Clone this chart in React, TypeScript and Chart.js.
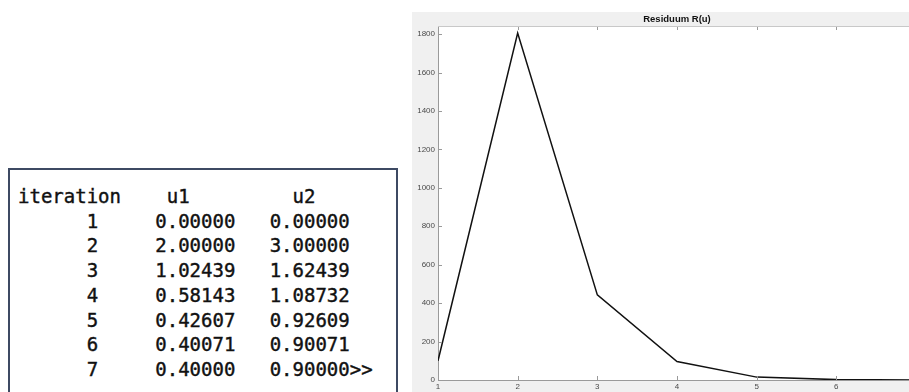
import React, { useEffect, useRef } from "react";
import { Chart, registerables } from "chart.js";

Chart.register(...registerables);

const ITERATIONS = [1, 2, 3, 4, 5, 6, 7];
const U1 = [0.0, 2.0, 1.02439, 0.58143, 0.42607, 0.40071, 0.4];
const U2 = [0.0, 3.0, 1.62439, 1.08732, 0.92609, 0.90071, 0.9];
const RESIDUUM = [100, 1805, 443, 96, 15, 2, 0];
const TITLE = "Residuum R(u)";
const Y_MAX = 1842;
const Y_STEP = 200;

const headerLine = "iteration    u1         u2";
const rowLines = ITERATIONS.map(
  (it, i) =>
    String(it).padStart(7, " ") +
    "     " +
    U1[i].toFixed(5) +
    "   " +
    U2[i].toFixed(5) +
    (i === ITERATIONS.length - 1 ? ">>" : "")
);

const TICK_FONT = { size: 8, family: "'Liberation Sans', Arial, sans-serif" };

const matlabPlugin = {
  id: "matlabLook",
  beforeDraw(chart: any) {
    const { ctx, chartArea: a, width, height } = chart;
    ctx.save();
    ctx.fillStyle = "#f0f0f0";
    ctx.fillRect(0, 0, width, height);
    ctx.fillStyle = "#ffffff";
    ctx.fillRect(a.left, a.top, a.right - a.left, a.bottom - a.top);
    ctx.restore();
  },
  afterDraw(chart: any) {
    const { ctx, chartArea: a } = chart;
    const xs = chart.scales.x;
    const ys = chart.scales.y;
    ctx.save();
    ctx.strokeStyle = "#9a9a9a";
    ctx.lineWidth = 1;
    ctx.beginPath();
    ys.ticks.forEach((t: any) => {
      const y = Math.round(ys.getPixelForValue(t.value)) + 0.5;
      ctx.moveTo(a.left, y);
      ctx.lineTo(a.left + 4, y);
    });
    xs.ticks.forEach((t: any) => {
      const x = Math.round(xs.getPixelForValue(t.value)) + 0.5;
      ctx.moveTo(x, a.bottom);
      ctx.lineTo(x, a.bottom - 4);
      ctx.moveTo(x, a.top);
      ctx.lineTo(x, a.top + 4);
    });
    ctx.stroke();
    ctx.strokeStyle = "#c8c8c8";
    ctx.beginPath();
    ctx.moveTo(a.left, a.top + 0.5);
    ctx.lineTo(a.right, a.top + 0.5);
    ctx.stroke();
    ctx.fillStyle = "#111111";
    ctx.font = "bold 9.5px 'Liberation Sans', Arial, sans-serif";
    ctx.textAlign = "center";
    ctx.textBaseline = "middle";
    ctx.fillText(TITLE, (a.left + a.right) / 2, 7.5);
    ctx.restore();
  },
};

export default function App() {
  const canvasRef = useRef<HTMLCanvasElement | null>(null);

  useEffect(() => {
    if (!canvasRef.current) return;
    const chart = new Chart(canvasRef.current, {
      type: "line",
      data: {
        datasets: [
          {
            data: ITERATIONS.map((x, i) => ({ x, y: RESIDUUM[i] })),
            borderColor: "#111111",
            borderWidth: 1.5,
            pointRadius: 0,
            tension: 0,
            fill: false,
          },
        ],
      },
      options: {
        responsive: false,
        animation: false,
        layout: { padding: { top: 14, right: 16, left: 0, bottom: 0 } },
        plugins: {
          legend: { display: false },
          title: { display: false },
          tooltip: { enabled: false },
        },
        scales: {
          x: {
            type: "linear",
            min: 1,
            max: 7,
            afterFit: (s: any) => {
              s.height = 12;
            },
            grid: { drawOnChartArea: false, drawTicks: false, color: "#9a9a9a" },
            border: { color: "#9a9a9a", width: 1 },
            ticks: {
              stepSize: 1,
              padding: 2,
              color: "#4a4a4a",
              font: TICK_FONT,
              maxRotation: 0,
              callback: (v: any) => String(v),
            },
          },
          y: {
            type: "linear",
            min: 0,
            max: Y_MAX,
            afterFit: (s: any) => {
              s.width = 26;
            },
            grid: { drawOnChartArea: false, drawTicks: false, color: "#9a9a9a" },
            border: { color: "#9a9a9a", width: 1 },
            ticks: {
              stepSize: Y_STEP,
              includeBounds: false,
              padding: 3,
              color: "#4a4a4a",
              font: TICK_FONT,
              callback: (v: any) => String(v),
            },
          },
        },
      },
      plugins: [matlabPlugin],
    } as any);
    return () => chart.destroy();
  }, []);

  return (
    <div
      style={{
        position: "fixed",
        left: 0,
        top: 0,
        width: 909,
        height: 392,
        overflow: "hidden",
        background: "#ffffff",
      }}
    >
      <div
        style={{
          position: "absolute",
          left: 8,
          top: 168,
          width: 386,
          height: 260,
          border: "2px solid #3d4a63",
          boxSizing: "content-box",
        }}
      />
      <pre
        style={{
          position: "absolute",
          left: 18,
          top: 184,
          margin: 0,
          fontFamily: "'DejaVu Sans Mono', monospace",
          fontSize: 19,
          lineHeight: "24.7px",
          color: "#111111",
          WebkitTextStroke: "0.4px #111111",
        }}
      >
        {[headerLine, ...rowLines].join("\n")}
      </pre>
      <canvas
        ref={canvasRef}
        width={520}
        height={380}
        style={{ position: "absolute", left: 412, top: 12, width: 520, height: 380 }}
      />
    </div>
  );
}
